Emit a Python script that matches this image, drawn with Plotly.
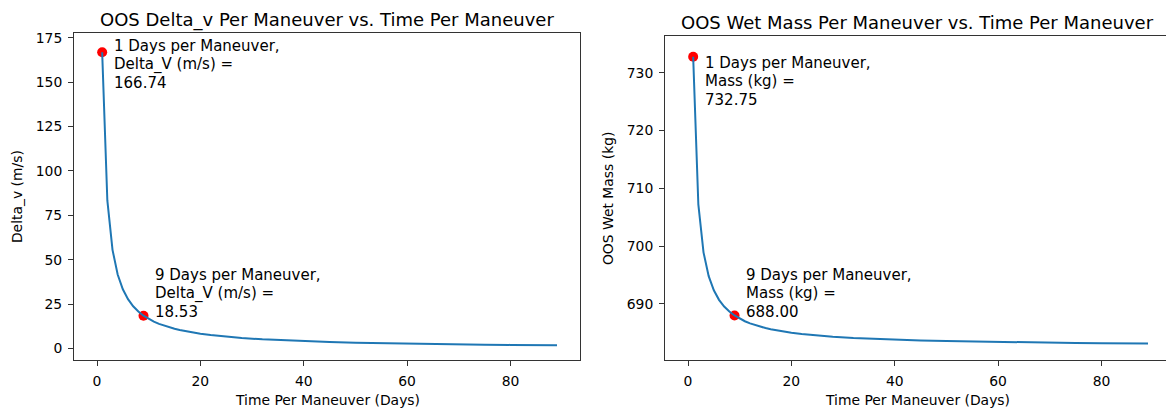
import plotly.graph_objects as go

# ---- data ----
days = [1, 2, 3, 4, 5, 6, 7, 8, 9, 10, 11, 12, 13, 14, 15, 16, 18, 20, 22, 25,
        28, 32, 36, 40, 45, 50, 55, 60, 65, 70, 75, 80, 85, 89]
delta_v = [166.74, 83.37, 55.58, 41.69, 33.35, 27.79, 23.82, 20.84, 18.53, 16.67,
           15.16, 13.90, 12.83, 11.91, 11.12, 10.42, 9.26, 8.34, 7.58, 6.67,
           5.96, 5.21, 4.63, 4.17, 3.71, 3.33, 3.03, 2.78, 2.57, 2.38, 2.22, 2.08, 1.96, 1.87]
wet_mass = [732.75, 707.23, 698.92, 694.81, 692.35, 690.71, 689.55, 688.68, 688.00, 687.46,
            687.01, 686.64, 686.33, 686.07, 685.83, 685.63, 685.29, 685.02, 684.80, 684.54,
            684.33, 684.11, 683.95, 683.81, 683.68, 683.57, 683.48, 683.41, 683.35, 683.29,
            683.25, 683.21, 683.17, 683.14]

hl_days = [1, 9]
hl_dv = [166.74, 18.53]
hl_mass = [732.75, 688.00]

x_ticks = [0, 20, 40, 60, 80]
dv_ticks = [0, 25, 50, 75, 100, 125, 150, 175]
mass_ticks = [690, 700, 710, 720, 730]

W, H = 1166, 410
FONT = "DejaVu Sans"
BLUE = "#1f77b4"
INK = "#000000"
SPINE = "#333333"


def px(xp):
    return xp / W


def py(yp):
    return (H - yp) / H


fig = go.Figure()
# markers first so the line sits on top (as in the reference)
fig.add_trace(go.Scatter(x=hl_days, y=hl_dv, mode="markers",
                         marker=dict(color="red", size=10), xaxis="x", yaxis="y",
                         showlegend=False))
fig.add_trace(go.Scatter(x=days, y=delta_v, mode="lines",
                         line=dict(color=BLUE, width=2), xaxis="x", yaxis="y",
                         showlegend=False))
fig.add_trace(go.Scatter(x=hl_days, y=hl_mass, mode="markers",
                         marker=dict(color="red", size=10), xaxis="x2", yaxis="y2",
                         showlegend=False))
fig.add_trace(go.Scatter(x=days, y=wet_mass, mode="lines",
                         line=dict(color=BLUE, width=2), xaxis="x2", yaxis="y2",
                         showlegend=False))

axis_common = dict(showline=True, linecolor=SPINE, linewidth=1, ticks="outside",
                   ticklen=5, tickwidth=1, tickcolor=SPINE, showgrid=False,
                   zeroline=False, tickfont=dict(family=FONT, size=13.9, color=INK),
                   ticklabelstandoff=3)

fig.update_layout(
    width=W, height=H,
    margin=dict(l=0, r=0, t=0, b=0),
    paper_bgcolor="white", plot_bgcolor="white",
    xaxis=dict(axis_common, domain=[px(74), px(580)], range=[-4.45, 93.45],
               tickvals=x_ticks, mirror=True, anchor="y"),
    yaxis=dict(axis_common, domain=[py(360), py(29.5)], range=[-6.7, 177.5],
               tickvals=dv_ticks, mirror=True, anchor="x"),
    xaxis2=dict(axis_common, domain=[px(665), 1.0], range=[-4.45, 92.48],
                tickvals=x_ticks, mirror=True, anchor="y2"),
    yaxis2=dict(axis_common, domain=[py(360), py(32)], range=[680.22, 736.39],
                tickvals=mass_ticks, mirror=False, anchor="x2"),
)

ann = []
# titles
ann.append(dict(text="OOS Delta_v Per Maneuver vs. Time Per Maneuver", xref="paper", yref="paper",
                x=px(327), y=py(16.5), xanchor="center", yanchor="middle", showarrow=False,
                font=dict(family=FONT, size=18, color=INK)))
ann.append(dict(text="OOS Wet Mass Per Maneuver vs. Time Per Maneuver", xref="paper", yref="paper",
                x=px(917.5), y=py(18.5), xanchor="center", yanchor="middle", showarrow=False,
                font=dict(family=FONT, size=18, color=INK)))
# axis titles
for txt, xx, yy, ang in [("Time Per Maneuver (Days)", 327, 400, 0),
                         ("Time Per Maneuver (Days)", 917.5, 400, 0),
                         ("Delta_v (m/s)", 17, 195, -90),
                         ("OOS Wet Mass (kg)", 608, 196, -90)]:
    ann.append(dict(text=txt, xref="paper", yref="paper", x=px(xx), y=py(yy),
                    xanchor="center", yanchor="middle", textangle=ang, showarrow=False,
                    font=dict(family=FONT, size=13.9, color=INK)))

# point labels, one annotation per text line (matplotlib line spacing)
lbl_font = dict(family=FONT, size=15, color=INK)
labels = [
    ("x", "y", hl_days[0], hl_dv[0],
     ["1 Days per Maneuver,", "Delta_V (m/s) =", "%.2f" % hl_dv[0]], [6.3, -12.0, -30.3]),
    ("x", "y", hl_days[1], hl_dv[1],
     ["9 Days per Maneuver,", "Delta_V (m/s) =", "%.2f" % hl_dv[1]], [40.7, 22.3, 3.9]),
    ("x2", "y2", hl_days[0], hl_mass[0],
     ["1 Days per Maneuver,", "Mass (kg) =", "%.2f" % hl_mass[0]], [-6.4, -24.7, -43.0]),
    ("x2", "y2", hl_days[1], hl_mass[1],
     ["9 Days per Maneuver,", "Mass (kg) =", "%.2f" % hl_mass[1]], [40.5, 22.2, 3.9]),
]
for xr, yr, xv, yv, lines, shifts in labels:
    for line, sh in zip(lines, shifts):
        ann.append(dict(text=line, xref=xr, yref=yr, x=xv, y=yv, xanchor="left",
                        yanchor="middle", xshift=9.5, yshift=sh, align="left",
                        showarrow=False, font=lbl_font))

fig.update_layout(annotations=ann)
fig.write_html("out.html",
               config={"displayModeBar": False},
               post_script="document.body.style.margin='0';document.body.style.overflow='hidden';")
